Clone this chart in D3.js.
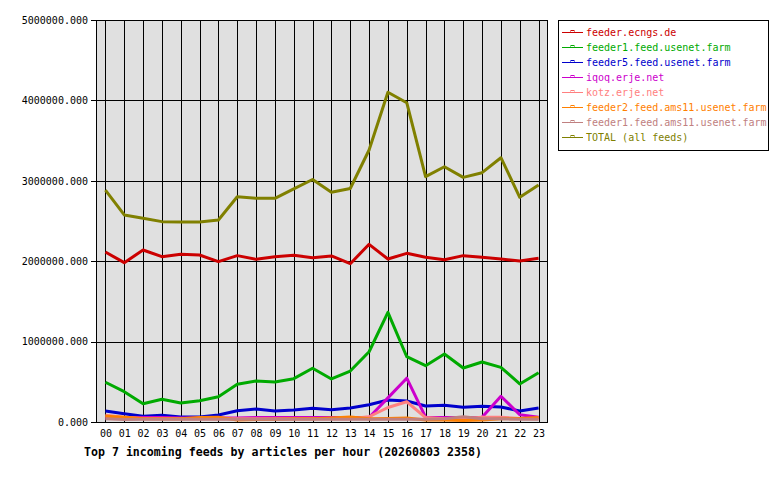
<!DOCTYPE html>
<html>
<head>
<meta charset="utf-8">
<script src="https://cdn.jsdelivr.net/npm/d3@7"></script>
<style>
body { margin: 0; background: #fff; }
svg text { font-family: "DejaVu Sans Mono", monospace; }
</style>
</head>
<body>
<svg id="chart" width="780" height="480"></svg>
<script>
var hours = ["00","01","02","03","04","05","06","07","08","09","10","11",
             "12","13","14","15","16","17","18","19","20","21","22","23"];

var feeds = ["feeder.ecngs.de", "feeder1.feed.usenet.farm", "feeder5.feed.usenet.farm",
             "iqoq.erje.net", "kotz.erje.net", "feeder2.feed.ams11.usenet.farm",
             "feeder1.feed.ams11.usenet.farm", "TOTAL (all feeds)"];

var colors = ["#cc0000", "#00aa00", "#0000cc", "#cc00cc", "#ff8080", "#ff8000", "#c08080", "#808000"];

var ecngs = [2114000,1982000,2139000,2056000,2086000,2077000,1994000,2069000,2023000,2056000,2073000,2044000,
             2065000,1969000,2210000,2027000,2098000,2048000,2019000,2069000,2048000,2027000,2003000,2036000];
var farm1 = [494000,377000,228000,282000,236000,265000,315000,469000,510000,498000,539000,668000,
             535000,634000,874000,1364000,812000,700000,846000,672000,746000,680000,473000,613000];
var farm5 = [137000,103000,71000,83000,62000,62000,87000,141000,162000,137000,149000,170000,
             153000,174000,215000,274000,261000,199000,208000,183000,195000,187000,137000,174000];
var iqoq = [50000,50000,55000,55000,50000,50000,50000,50000,55000,55000,55000,55000,
            55000,55000,55000,300000,545000,60000,55000,55000,60000,320000,90000,60000];
var kotz = [85000,60000,40000,40000,40000,40000,40000,40000,40000,40000,40000,40000,
            40000,40000,65000,180000,252000,55000,40000,40000,60000,60000,45000,40000];
var ams11b = [70000,60000,45000,40000,40000,55000,60000,25000,30000,35000,40000,40000,
              50000,62000,40000,45000,50000,25000,25000,20000,25000,40000,45000,55000];
var ams11a = [40000,30000,35000,35000,35000,35000,35000,35000,35000,35000,35000,35000,
              35000,35000,35000,35000,35000,35000,40000,65000,40000,40000,35000,35000];
var total = [2885000,2575000,2533000,2492000,2488000,2488000,2512000,2802000,2782000,2782000,2900000,3016000,
             2857000,2904000,3383000,4101000,3971000,3051000,3175000,3043000,3101000,3287000,2795000,2948000];

var series = [ecngs, farm1, farm5, iqoq, kotz, ams11b, ams11a, total];
var yTicks = [0, 1000000, 2000000, 3000000, 4000000, 5000000];
var title = "Top 7 incoming feeds by articles per hour (20260803 2358)";

var svg = d3.select("#chart"),
    margin = {top: 20, left: 96},
    width = 452,
    height = 402,
    g = svg.append("g").attr("transform", "translate(" + margin.left + "," + margin.top + ")");

var x = d3.scalePoint().domain(hours).range([0, width]).padding(0.5);
var y = d3.scaleLinear().domain([0, 5000000]).range([height, 0]);

g.append("rect")
    .attr("width", width).attr("height", height)
    .attr("fill", "#e0e0e0");

// vertical grid lines, one per hour
g.append("g")
    .selectAll("line").data(hours).enter().append("line")
    .attr("x1", function(d) { return Math.round(x(d)) + 0.5; })
    .attr("x2", function(d) { return Math.round(x(d)) + 0.5; })
    .attr("y1", 0).attr("y2", height)
    .attr("stroke", "#000").attr("stroke-width", 1);

// horizontal grid lines
g.append("g")
    .selectAll("line").data(yTicks).enter().append("line")
    .attr("x1", -5).attr("x2", width)
    .attr("y1", function(d) { return Math.round(y(d)) + 0.5; })
    .attr("y2", function(d) { return Math.round(y(d)) + 0.5; })
    .attr("stroke", "#000").attr("stroke-width", 1);

var yAxis = d3.axisLeft(y).tickValues(yTicks).tickSize(0).tickPadding(8)
    .tickFormat(function(d) { return d3.format(".3f")(d); });

g.append("g").call(yAxis)
    .call(function(a) {
      a.select(".domain").remove();
      a.selectAll(".tick text").attr("font-size", "10px").attr("font-family", "DejaVu Sans Mono").attr("fill", "#000");
    });

var xAxis = d3.axisBottom(x).tickSize(0).tickPadding(8);

g.append("g").attr("transform", "translate(0," + height + ")").call(xAxis)
    .call(function(a) {
      a.select(".domain").remove();
      a.selectAll(".tick text").attr("font-size", "10px").attr("font-family", "DejaVu Sans Mono").attr("fill", "#000");
    });

// frame
g.append("rect")
    .attr("x", 0.5).attr("y", 0.5).attr("width", width - 1).attr("height", height)
    .attr("fill", "none").attr("stroke", "#000").attr("stroke-width", 1);

var line = d3.line()
    .x(function(d, i) { return x(hours[i]); })
    .y(function(d) { return y(d); });

series.forEach(function(s, i) {
  g.append("path")
      .datum(s)
      .attr("fill", "none")
      .attr("stroke", colors[i])
      .attr("stroke-width", 3)
      .attr("stroke-linejoin", "round")
      .attr("d", line);
});

svg.append("text")
    .attr("x", 84).attr("y", 456)
    .attr("font-size", "11.6px").attr("font-weight", "bold")
    .attr("font-family", "DejaVu Sans Mono")
    .text(title);

// legend
var legend = svg.append("g").attr("transform", "translate(558,20)");
legend.append("rect")
    .attr("x", 0.5).attr("y", 0.5).attr("width", 210).attr("height", 130)
    .attr("fill", "#fff").attr("stroke", "#000");

var item = legend.selectAll(".item").data(feeds).enter().append("g")
    .attr("transform", function(d, i) { return "translate(0," + (12 + i * 15) + ")"; });

item.append("line")
    .attr("x1", 4).attr("x2", 25).attr("y1", 0.5).attr("y2", 0.5)
    .attr("stroke", function(d, i) { return colors[i]; }).attr("stroke-width", 1);
item.append("rect")
    .attr("x", 13).attr("y", -1.5).attr("width", 3).attr("height", 2)
    .attr("fill", "none")
    .attr("stroke", function(d, i) { return colors[i]; }).attr("stroke-width", 1);
item.append("text")
    .attr("x", 28).attr("y", 4)
    .attr("font-size", "10px")
    .attr("fill", function(d, i) { return colors[i]; })
    .text(function(d) { return d; });
</script>
</body>
</html>
